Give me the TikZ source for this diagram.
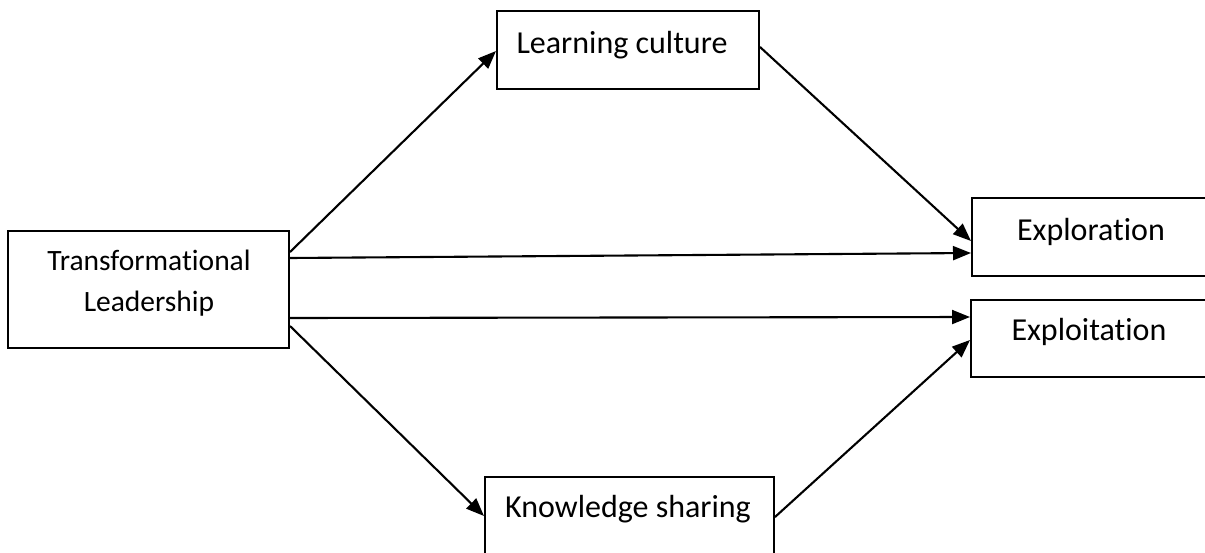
\documentclass[tikz,border=0pt]{standalone}
\usepackage{fontspec}
\setmainfont{Carlito}[Ligatures={NoCommon,NoContextual}]
\usetikzlibrary{arrows.meta}
\begin{document}
\begin{tikzpicture}[x=1pt,y=-1pt,
  box/.style={draw=black,line width=2pt,rectangle,inner sep=0pt},
  lbl/.style={anchor=base,inner sep=0pt,font=\fontsize{32}{40}\selectfont},
  small/.style={font=\fontsize{29.5}{36}\selectfont},
  link/.style={line width=2.1pt,-{Triangle[length=18pt,width=14pt]}}]
\useasboundingbox (0,0) rectangle (1205,552);
\clip (0,0) rectangle (1205,552);
% boxes
\node[box,minimum width=281pt,minimum height=117pt] (tl) at (148.5,289.5) {};
\node[box,minimum width=262pt,minimum height=78pt] (lc) at (628,50) {};
\node[box,minimum width=246pt,minimum height=78pt] (exr) at (1095,237) {};
\node[box,minimum width=246pt,minimum height=77pt] (ext) at (1094,338.5) {};
\node[box,minimum width=289pt,minimum height=130pt] (ks) at (629.5,542) {};
% labels
\node[lbl,small] (tl1) at (149,270) {Transformational};
\node[lbl,small] (tl2) at (149,311) {Leadership};
\node[lbl] (lct) at (622,53) {Learning culture};
\node[lbl] (exrt) at (1091,240) {Exploration};
\node[lbl] (extt) at (1089,340) {Exploitation};
\node[lbl] (kst) at (628,517) {Knowledge sharing};
% paths
\draw[link] ([yshift=-22pt]tl.north east) -- ([yshift=-1pt]lc.west);
\draw[link] ([yshift=3pt]lc.east) -- ([yshift=-4pt]exr.west);
\draw[link] ([yshift=-28pt]tl.north east) -- ([yshift=-16pt]exr.west);
\draw[link] ([yshift=-88pt]tl.north east) -- ([yshift=21.5pt]ext.west);
\draw[link] ([yshift=-96pt]tl.north east) -- ([yshift=-40pt]ks.north west);
\draw[link] ([yshift=-41pt]ks.north east) -- ([yshift=-1.5pt]ext.west);
\end{tikzpicture}
\end{document}
